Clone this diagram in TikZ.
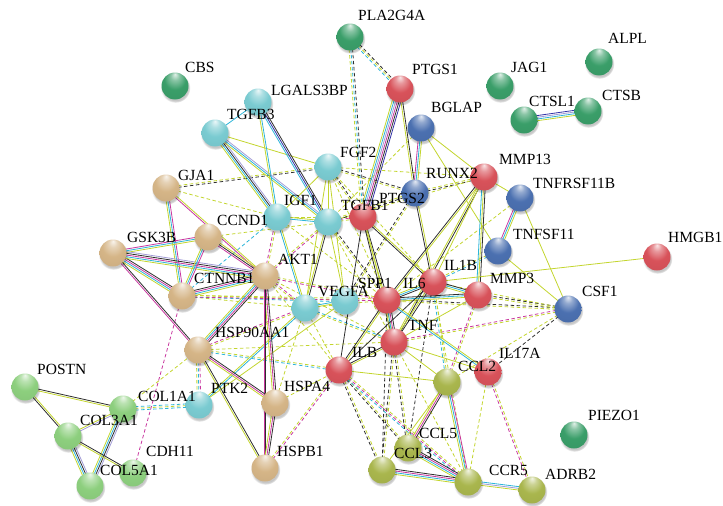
\documentclass[tikz,border=0pt]{standalone}
\usepackage{fontspec}
\setmainfont{Liberation Serif}
\usepackage{tikz}
\usetikzlibrary{calc}
\usetikzlibrary{backgrounds}
\usetikzlibrary{shadows}
\tikzset{>=stealth}
% evidence colours
\definecolor{txtm}{HTML}{C3D52E}
\definecolor{coex}{HTML}{2E2E2E}
\definecolor{expr}{HTML}{C8379F}
\definecolor{dbase}{HTML}{2DB5D9}
\definecolor{cooc}{HTML}{3434A8}
\definecolor{homol}{HTML}{A29CD6}
% cluster colours
\definecolor{cGreen}{HTML}{3A9E69}
\definecolor{cRed}{HTML}{D8525A}
\definecolor{cBlue}{HTML}{4B70B0}
\definecolor{cCyan}{HTML}{7ACBD1}
\definecolor{cTan}{HTML}{D5B587}
\definecolor{cLight}{HTML}{8DCF7E}
\definecolor{cOlive}{HTML}{A9B64D}
\makeatletter
\pgfdeclareradialshading[tikz@ball]{strball}{\pgfqpoint{0bp}{22bp}}{%
  color(0bp)=(tikz@ball!15!white); color(8bp)=(tikz@ball!60!white);
  color(20bp)=(tikz@ball); color(42bp)=(tikz@ball!94!black);
  color(50bp)=(tikz@ball!74!black)}
\makeatother
\tikzstyle{gene} = [circle, minimum size=27pt, inner sep=0pt,
  ball color=#1, shading=strball,
  circular drop shadow={shadow xshift=0.5pt, shadow yshift=-1.8pt,
  opacity=0.22, fill=black}]
\tikzstyle{glab} = [anchor=base west, inner sep=0pt,
  font=\fontsize{15.5}{16}\selectfont]
\tikzstyle{link} = [line width=0.8pt]
\tikzstyle{dlink} = [dash pattern=on 3.5pt off 2.5pt]
% parallel evidence lines between two nodes
\newcommand{\strlink}[4][]{%
  \foreach \lc [count=\k] in {#4} {\xdef\nlink{\k}}%
  \foreach \lc [count=\k] in {#4} {%
    \pgfmathsetmacro{\loff}{(\k-(\nlink+1)/2)*1.7}%
    \draw[link, #1, \lc] ($(#2)!\loff pt!90:(#3)$) -- ($(#3)!\loff pt!-90:(#2)$);
  }%
}

\begin{document}
\begin{tikzpicture}[x=1pt, y=-1pt]
	\useasboundingbox (0,0) rectangle (723,506);
	%% green
	\node [gene=cGreen] (PLA2G4A) at (350,37) {};
	\node [gene=cGreen] (CBS) at (175,86) {};
	\node [gene=cGreen] (JAG1) at (500,86) {};
	\node [gene=cGreen] (ALPL) at (599,62) {};
	\node [gene=cGreen] (CTSL1) at (524,120) {};
	\node [gene=cGreen] (CTSB) at (588,111) {};
	\node [gene=cGreen] (PIEZO1) at (574,435) {};
	%% red
	\node [gene=cRed] (PTGS1) at (400,89) {};
	\node [gene=cRed] (MMP13) at (484,177) {};
	\node [gene=cRed] (PTGS2) at (363,217) {};
	\node [gene=cRed] (IL1B) at (433,282) {};
	\node [gene=cRed] (IL6) at (387,300) {};
	\node [gene=cRed] (MMP3) at (478,295) {};
	\node [gene=cRed] (TNF) at (394,342) {};
	\node [gene=cRed] (ILB) at (339,370) {};
	\node [gene=cRed] (IL17A) at (488,372) {};
	\node [gene=cRed] (HMGB1) at (657,257) {};
	%% blue
	\node [gene=cBlue] (BGLAP) at (421,128) {};
	\node [gene=cBlue] (RUNX2) at (415,193) {};
	\node [gene=cBlue] (TNFRSF11B) at (520,198) {};
	\node [gene=cBlue] (TNFSF11) at (498,251) {};
	\node [gene=cBlue] (CSF1) at (568,309) {};
	%% cyan
	\node [gene=cCyan] (LGALS3BP) at (258,102) {};
	\node [gene=cCyan] (TGFB3) at (215,133) {};
	\node [gene=cCyan] (FGF2) at (328,167) {};
	\node [gene=cCyan] (IGF1) at (277,217) {};
	\node [gene=cCyan] (TGFB1) at (328,222) {};
	\node [gene=cCyan] (SPP1) at (345,301) {};
	\node [gene=cCyan] (VEGFA) at (305,308) {};
	\node [gene=cCyan] (PTK2) at (199,405) {};
	%% tan
	\node [gene=cTan] (GJA1) at (166,188) {};
	\node [gene=cTan] (CCND1) at (208,237) {};
	\node [gene=cTan] (GSK3B) at (113,253) {};
	\node [gene=cTan] (CTNNB1) at (182,296) {};
	\node [gene=cTan] (AKT1) at (265,276) {};
	\node [gene=cTan] (HSP90AA1) at (198,350) {};
	\node [gene=cTan] (HSPA4) at (275,403) {};
	\node [gene=cTan] (HSPB1) at (265,468) {};
	%% light green
	\node [gene=cLight] (POSTN) at (25,387) {};
	\node [gene=cLight] (COL1A1) at (123,409) {};
	\node [gene=cLight] (COL3A1) at (68,436) {};
	\node [gene=cLight] (CDH11) at (133,473) {};
	\node [gene=cLight] (COL5A1) at (90,486) {};
	%% olive
	\node [gene=cOlive] (CCL2) at (447,382) {};
	\node [gene=cOlive] (CCL5) at (408,448) {};
	\node [gene=cOlive] (CCL3) at (382,470) {};
	\node [gene=cOlive] (CCR5) at (468,482) {};
	\node [gene=cOlive] (ADRB2) at (532,490) {};
	%% Labels
	\node [glab] (PLA2G4A-t) at (358,20) {PLA2G4A};
	\node [glab] (CBS-t) at (185,72) {CBS};
	\node [glab] (JAG1-t) at (511,72) {JAG1};
	\node [glab] (ALPL-t) at (608,43) {ALPL};
	\node [glab] (CTSL1-t) at (529,106) {CTSL1};
	\node [glab] (CTSB-t) at (602,100) {CTSB};
	\node [glab] (PIEZO1-t) at (588,420) {PIEZO1};
	\node [glab] (PTGS1-t) at (412,74) {PTGS1};
	\node [glab] (MMP13-t) at (499,164) {MMP13};
	\node [glab] (PTGS2-t) at (379,203) {PTGS2};
	\node [glab] (IL1B-t) at (444,270) {IL1B};
	\node [glab] (IL6-t) at (403,288) {IL6};
	\node [glab] (MMP3-t) at (490,283) {MMP3};
	\node [glab] (TNF-t) at (408,330) {TNF};
	\node [glab] (ILB-t) at (352,357) {ILB};
	\node [glab] (IL17A-t) at (499,358) {IL17A};
	\node [glab] (HMGB1-t) at (668,242) {HMGB1};
	\node [glab] (BGLAP-t) at (431,112) {BGLAP};
	\node [glab] (RUNX2-t) at (426,178) {RUNX2};
	\node [glab] (TNFRSF11B-t) at (533,188) {TNFRSF11B};
	\node [glab] (TNFSF11-t) at (513,239) {TNFSF11};
	\node [glab] (CSF1-t) at (582,296) {CSF1};
	\node [glab] (LGALS3BP-t) at (271,95) {LGALS3BP};
	\node [glab] (TGFB3-t) at (227,119) {TGFB3};
	\node [glab] (FGF2-t) at (340,157) {FGF2};
	\node [glab] (IGF1-t) at (284,205) {IGF1};
	\node [glab] (TGFB1-t) at (341,210) {TGFB1};
	\node [glab] (SPP1-t) at (358,288) {SPP1};
	\node [glab] (VEGFA-t) at (318,296) {VEGFA};
	\node [glab] (PTK2-t) at (211,393) {PTK2};
	\node [glab] (GJA1-t) at (178,180) {GJA1};
	\node [glab] (CCND1-t) at (217,225) {CCND1};
	\node [glab] (GSK3B-t) at (127,242) {GSK3B};
	\node [glab] (CTNNB1-t) at (194,283) {CTNNB1};
	\node [glab] (AKT1-t) at (278,264) {AKT1};
	\node [glab] (HSP90AA1-t) at (215,337) {HSP90AA1};
	\node [glab] (HSPA4-t) at (284,391) {HSPA4};
	\node [glab] (HSPB1-t) at (277,456) {HSPB1};
	\node [glab] (POSTN-t) at (37,374) {POSTN};
	\node [glab] (COL1A1-t) at (138,401) {COL1A1};
	\node [glab] (COL3A1-t) at (80,425) {COL3A1};
	\node [glab] (CDH11-t) at (146,456) {CDH11};
	\node [glab] (COL5A1-t) at (100,475) {COL5A1};
	\node [glab] (CCL2-t) at (458,371) {CCL2};
	\node [glab] (CCL5-t) at (419,438) {CCL5};
	\node [glab] (CCL3-t) at (394,458) {CCL3};
	\node [glab] (CCR5-t) at (489,475) {CCR5};
	\node [glab] (ADRB2-t) at (545,479) {ADRB2};
	%% Links between clusters
	\begin{scope}[on background layer]
	\strlink[dlink]{PLA2G4A}{PTGS1}{dbase,txtm,coex}
	\strlink[dlink]{PLA2G4A}{PTGS2}{txtm,dbase,coex}
	\strlink[dlink]{RUNX2}{MMP13}{coex,txtm}
	\strlink[dlink]{HSP90AA1}{PTK2}{txtm,dbase,expr}
	\strlink[dlink]{COL1A1}{PTK2}{dbase,txtm,dbase}
	\strlink[dlink]{CDH11}{CTNNB1}{expr}
	\strlink[dlink]{COL1A1}{HSP90AA1}{txtm}
	\strlink[dlink]{IL17A}{ADRB2}{expr,txtm}
	\strlink[dlink]{IL17A}{CCR5}{txtm}
	\strlink[dlink]{CSF1}{IL6}{coex,txtm}
	\strlink[dlink]{CSF1}{MMP3}{coex,txtm}
	\strlink[dlink]{CSF1}{TNF}{expr,txtm}
	\strlink[dlink]{CSF1}{IL1B}{txtm}
	\strlink[dlink]{CSF1}{IL17A}{coex}
	\strlink[dlink]{CSF1}{CCL2}{txtm}
	\strlink[dlink]{ILB}{CCL3}{coex,txtm}
	\strlink[dlink]{ILB}{CCL5}{coex,txtm}
	\strlink[dlink]{ILB}{CCR5}{dbase,expr,txtm}
	\strlink[dlink]{TNF}{CCL3}{coex,txtm}
	\strlink[dlink]{TNF}{CCL5}{coex,txtm}
	\strlink[dlink]{TNF}{CCR5}{txtm}
	\strlink[dlink]{IL6}{CCL3}{coex}
	\strlink[dlink]{IL1B}{CCL5}{coex}
	\strlink[dlink]{IL1B}{CCR5}{txtm}
	\strlink[dlink]{MMP3}{CCL2}{expr,txtm}
	\strlink[dlink]{IL1B}{CCL2}{dbase,txtm}
	\strlink[dlink]{HSPB1}{ILB}{expr,txtm}
	\strlink[dlink]{HSPA4}{ILB}{txtm}
	\strlink[dlink]{HSP90AA1}{ILB}{dbase,txtm}
	\strlink[dlink]{AKT1}{TGFB1}{expr,txtm}
	\strlink[dlink]{AKT1}{IL6}{expr,txtm}
	\strlink[dlink]{AKT1}{VEGFA}{txtm,expr}
	\strlink[dlink]{AKT1}{ILB}{txtm}
	\strlink[dlink]{AKT1}{TNF}{txtm}
	\strlink[dlink]{AKT1}{IGF1}{txtm,expr}
	\strlink[dlink]{GJA1}{FGF2}{coex,txtm}
	\strlink[dlink]{GJA1}{IGF1}{txtm}
	\strlink[dlink]{CCND1}{TGFB1}{txtm}
	\strlink[dlink]{IGF1}{CTNNB1}{dbase}
	\strlink[dlink]{CTNNB1}{VEGFA}{txtm}
	\strlink[dlink]{CTNNB1}{SPP1}{dbase,txtm}
	\strlink[dlink]{CTNNB1}{IL6}{expr,txtm}
	\strlink[dlink]{TGFB1}{PTGS2}{txtm,expr}
	\strlink[dlink]{FGF2}{PTGS2}{txtm,coex}
	\strlink[dlink]{TGFB1}{IL6}{txtm,coex}
	\strlink[dlink]{VEGFA}{IL6}{txtm}
	\strlink[dlink]{VEGFA}{ILB}{txtm}
	\strlink[dlink]{FGF2}{IL6}{txtm}
	\strlink[dlink]{IGF1}{IL6}{txtm}
	\strlink[dlink]{FGF2}{MMP13}{txtm}
	\strlink[dlink]{FGF2}{RUNX2}{txtm,coex}
	\strlink[dlink]{TGFB1}{MMP13}{txtm}
	\strlink[dlink]{IGF1}{PTGS2}{txtm}
	\strlink[dlink]{FGF2}{IL1B}{txtm}
	\strlink[dlink]{TGFB1}{TNF}{txtm}
	\strlink[dlink]{VEGFA}{TNF}{txtm,dbase}
	\strlink[dlink]{SPP1}{RUNX2}{txtm,coex}
	\strlink[dlink]{BGLAP}{TGFB1}{txtm}
	\strlink[dlink]{RUNX2}{TGFB1}{txtm,coex}
	\strlink[dlink]{TNFRSF11B}{IL6}{txtm}
	\strlink[dlink]{TNFSF11}{IL1B}{txtm,dbase}
	\strlink[dlink]{HSP90AA1}{VEGFA}{txtm,expr}
	\strlink[dlink]{HSPA4}{VEGFA}{txtm}
	\strlink[dlink]{HSP90AA1}{TNF}{txtm}
	%% Links inside clusters
	\strlink{TGFB3}{LGALS3BP}{dbase}
	\strlink{TGFB3}{IGF1}{txtm,dbase,coex,homol}
	\strlink{TGFB3}{TGFB1}{txtm,dbase,homol}
	\strlink{TGFB3}{FGF2}{txtm}
	\strlink{LGALS3BP}{IGF1}{txtm,dbase}
	\strlink{LGALS3BP}{TGFB1}{dbase,cooc,coex}
	\strlink{FGF2}{IGF1}{txtm}
	\strlink{FGF2}{TGFB1}{txtm}
	\strlink{FGF2}{VEGFA}{txtm}
	\strlink{FGF2}{SPP1}{txtm}
	\strlink{IGF1}{TGFB1}{dbase,txtm}
	\strlink{IGF1}{VEGFA}{dbase,txtm}
	\strlink{TGFB1}{VEGFA}{txtm,coex}
	\strlink{TGFB1}{SPP1}{txtm}
	\strlink{VEGFA}{SPP1}{txtm,dbase}
	\strlink{PTK2}{VEGFA}{dbase,txtm}
	\strlink{PTK2}{SPP1}{txtm}
	%%
	\strlink{GJA1}{CTNNB1}{txtm,dbase,expr}
	\strlink{GJA1}{AKT1}{expr,txtm}
	\strlink{GSK3B}{CCND1}{txtm,dbase,expr}
	\strlink{GSK3B}{CTNNB1}{txtm,dbase,expr,coex}
	\strlink{GSK3B}{AKT1}{txtm,dbase,expr,coex,homol}
	\strlink{GSK3B}{HSP90AA1}{expr,coex}
	\strlink{CCND1}{CTNNB1}{txtm,dbase,expr}
	\strlink{CCND1}{AKT1}{expr,coex,txtm}
	\strlink{CTNNB1}{AKT1}{txtm,dbase,expr,coex}
	\strlink{AKT1}{HSP90AA1}{txtm,dbase,expr,coex}
	\strlink{AKT1}{HSPA4}{txtm,expr,coex}
	\strlink{AKT1}{HSPB1}{expr,coex}
	\strlink{HSP90AA1}{HSPA4}{txtm,expr,coex}
	\strlink{HSP90AA1}{HSPB1}{txtm,coex}
	\strlink{HSPA4}{HSPB1}{txtm,expr,coex}
	%%
	\strlink{POSTN}{COL1A1}{txtm,coex}
	\strlink{POSTN}{COL3A1}{coex,txtm}
	\strlink{COL1A1}{COL3A1}{txtm,homol}
	\strlink{COL1A1}{COL5A1}{txtm,dbase,coex,homol}
	\strlink{COL3A1}{COL5A1}{txtm,dbase,coex,homol}
	\strlink{COL3A1}{CDH11}{txtm,coex}
	\strlink{CTSL1}{CTSB}{txtm,dbase,homol,cooc}
	%%
	\strlink{PTGS1}{PTGS2}{txtm,dbase,homol,expr,coex,cooc}
	\strlink{PTGS1}{RUNX2}{txtm,coex}
	\strlink{BGLAP}{RUNX2}{expr,dbase,txtm}
	\strlink{BGLAP}{MMP13}{txtm}
	\strlink{BGLAP}{TNFSF11}{txtm}
	\strlink{RUNX2}{IL1B}{coex,txtm}
	\strlink{PTGS2}{IL1B}{coex,txtm}
	\strlink{PTGS2}{IL6}{txtm,coex}
	\strlink{PTGS2}{TNF}{coex,txtm}
	\strlink{PTGS2}{ILB}{coex}
	\strlink{MMP13}{IL6}{coex,txtm}
	\strlink{MMP13}{TNF}{txtm,coex}
	\strlink{MMP13}{IL1B}{txtm}
	\strlink{MMP13}{MMP3}{dbase,txtm,coex}
	\strlink{MMP13}{TNFRSF11B}{txtm}
	\strlink{TNFRSF11B}{TNFSF11}{expr,dbase,txtm}
	\strlink{TNFRSF11B}{CSF1}{txtm}
	\strlink{TNFSF11}{CSF1}{txtm}
	\strlink{IL1B}{HMGB1}{txtm}
	\strlink{IL1B}{IL6}{txtm,dbase,coex}
	\strlink{IL1B}{MMP3}{txtm,dbase,coex}
	\strlink{IL1B}{TNF}{txtm,coex}
	\strlink{IL6}{TNF}{txtm,dbase,expr,coex}
	\strlink{IL6}{MMP3}{txtm,dbase,coex}
	\strlink{TNF}{MMP3}{txtm}
	\strlink{IL6}{ILB}{coex,txtm}
	\strlink{TNF}{ILB}{coex,txtm}
	\strlink{IL1B}{ILB}{coex}
	\strlink{TNF}{IL17A}{txtm}
	\strlink{IL6}{IL17A}{dbase,txtm}
	\strlink{ILB}{CCL2}{txtm}
	\strlink{TNF}{CCL2}{txtm}
	%%
	\strlink{CCL2}{CCL5}{txtm,expr,coex}
	\strlink{CCL2}{CCR5}{txtm,dbase,expr}
	\strlink{CCL5}{CCR5}{txtm,dbase,expr,coex}
	\strlink{CCL3}{CCR5}{txtm,dbase,expr,coex}
	\strlink{CCR5}{ADRB2}{txtm,homol,dbase}
	\strlink{CCL2}{CCL3}{txtm}
	\end{scope}
\end{tikzpicture}
\end{document}
